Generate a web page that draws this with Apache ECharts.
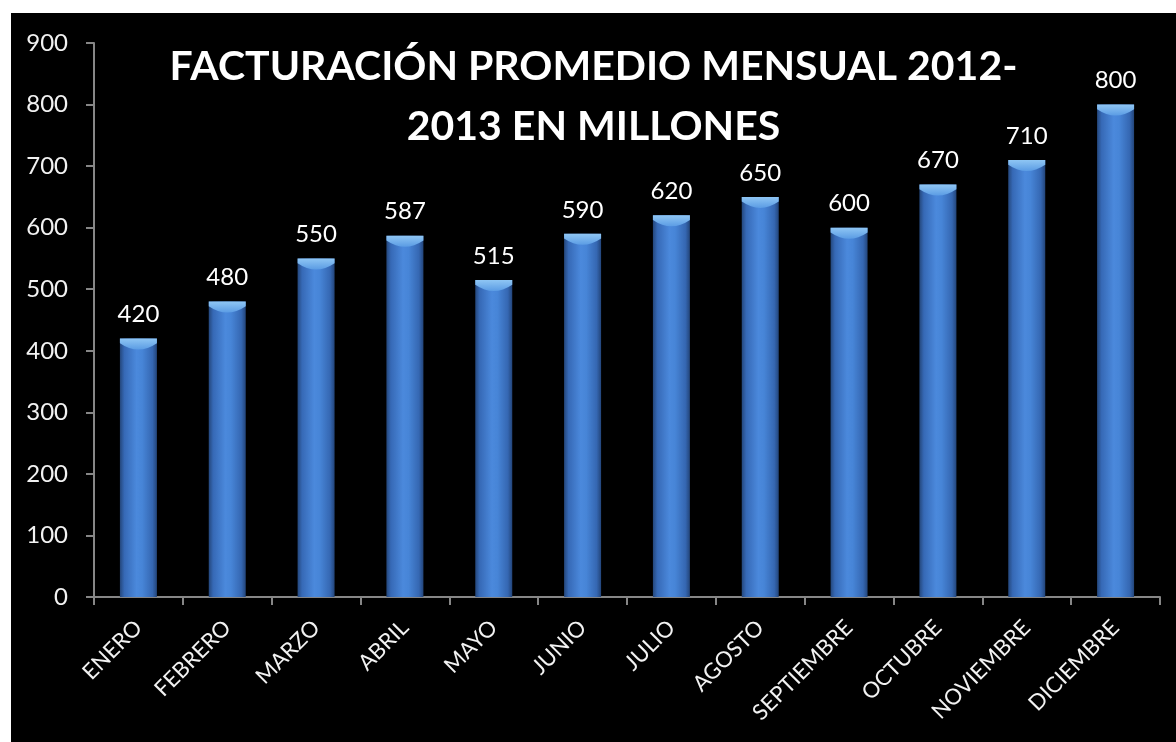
<!DOCTYPE html>
<html>
<head>
<meta charset="utf-8">
<script src="https://cdn.jsdelivr.net/npm/echarts@6/dist/echarts.min.js"></script>
<style>
  html, body { margin: 0; padding: 0; background: #ffffff; width: 1176px; height: 742px; overflow: hidden; }
  #chart { position: absolute; left: 11px; top: 13px; width: 1165px; height: 729px; }
</style>
</head>
<body>
<div id="chart"></div>
<script>
// Monthly average billing, in millions
const months = ['ENERO', 'FEBRERO', 'MARZO', 'ABRIL', 'MAYO', 'JUNIO', 'JULIO',
                'AGOSTO', 'SEPTIEMBRE', 'OCTUBRE', 'NOVIEMBRE', 'DICIEMBRE'];
const billing = [420, 480, 550, 587, 515, 590, 620, 650, 600, 670, 710, 800];
const yTicks = { min: 0, max: 900, step: 100 };
const chartTitle = 'FACTURACIÓN PROMEDIO MENSUAL 2012-\n2013 EN MILLONES';

const FONT = 'Lato, "Open Sans", sans-serif';
const AXIS_GREY = '#868686';
const BAR_W = 37;

const chart = echarts.init(document.getElementById('chart'), null, { renderer: 'canvas' });

// cylinder-like body shading across the bar width
const bodyFill = new echarts.graphic.LinearGradient(0, 0, 1, 0, [
  { offset: 0, color: '#24477c' },
  { offset: 0.12, color: '#3669b6' },
  { offset: 0.45, color: '#4b89dc' },
  { offset: 0.6, color: '#4785d7' },
  { offset: 0.88, color: '#3567b2' },
  { offset: 1, color: '#23457a' }
]);
// lighter cap at the top of each bar
const capFill = new echarts.graphic.LinearGradient(0, 0, 0, 1, [
  { offset: 0, color: '#8fc6f4' },
  { offset: 1, color: '#5b9ce4' }
]);

chart.setOption({
  backgroundColor: '#000000',
  animation: false,
  title: {
    text: chartTitle,
    left: 'center',
    top: 24,
    padding: [0, 0, 0, 18],
    textStyle: {
      color: '#ffffff',
      fontFamily: FONT,
      fontWeight: 'bold',
      fontSize: 41,
      lineHeight: 60
    }
  },
  grid: { left: 83, right: 16, top: 30, bottom: 145, containLabel: false },
  xAxis: {
    type: 'category',
    data: months,
    axisLine: { lineStyle: { color: AXIS_GREY, width: 2 } },
    axisTick: { show: true, length: 8, lineStyle: { color: AXIS_GREY, width: 2 } },
    axisLabel: {
      rotate: 45,
      margin: 27,
      color: '#f2f2f2',
      fontFamily: FONT,
      fontSize: 22,
      interval: 0
    },
    splitLine: { show: false }
  },
  yAxis: {
    type: 'value',
    min: yTicks.min,
    max: yTicks.max,
    interval: yTicks.step,
    axisLine: { show: true, lineStyle: { color: AXIS_GREY, width: 2 } },
    axisTick: { show: true, length: 8, lineStyle: { color: AXIS_GREY, width: 2 } },
    axisLabel: {
      margin: 26,
      color: '#f2f2f2',
      fontFamily: FONT,
      fontSize: 24
    },
    splitLine: { show: false }
  },
  series: [
    {
      name: 'Facturación',
      type: 'bar',
      data: billing,
      barWidth: BAR_W,
      barGap: '-100%',
      itemStyle: { color: bodyFill },
      label: {
        show: true,
        position: 'top',
        distance: 12,
        color: '#ffffff',
        fontFamily: FONT,
        fontSize: 24
      },
      z: 2
    },
    {
      name: 'cap',
      type: 'pictorialBar',
      data: billing,
      symbol: 'path://M0,0 L20,0 L20,3 Q10,11 0,3 Z',
      symbolSize: [BAR_W, 11],
      symbolPosition: 'end',
      symbolOffset: [0, 0],
      itemStyle: { color: capFill },
      silent: true,
      z: 3
    }
  ]
});
</script>
</body>
</html>
